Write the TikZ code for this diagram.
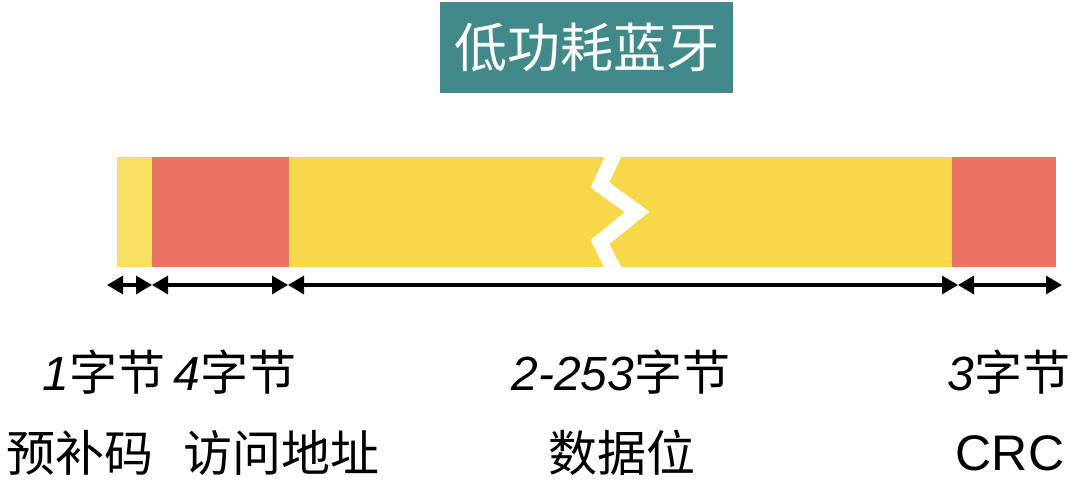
\documentclass[tikz,border=0pt]{standalone}
\usepackage{fontspec}
\setmainfont{Liberation Sans}
\newfontfamily\cjk{Noto Sans CJK SC}
\usetikzlibrary{arrows.meta,positioning}
\definecolor{titleteal}{HTML}{428A89}
\definecolor{lightyel}{HTML}{F9E063}
\definecolor{yel}{HTML}{F7D84B}
\definecolor{salmon}{HTML}{E87461}
\tikzset{
    seg/.style={draw=none,minimum height=110pt,inner sep=0pt,anchor=north west},
    span/.style={{Triangle[length=16pt,width=18pt]}-{Triangle[length=16pt,width=18pt]},line width=3.2pt},
    bytelbl/.style={font=\fontsize{48}{54}\selectfont,inner sep=0pt},
    fieldlbl/.style={font=\cjk\fontsize{49}{55}\selectfont,inner sep=0pt}
}
\newcommand{\bytes}[1]{{\itshape #1}{\cjk 字节}}

\begin{document}
\begin{tikzpicture}[x=1pt,y=-1pt]
    \useasboundingbox (0,0) rectangle (1080,492);
    % title
    \node[fill=titleteal,text=white,font=\cjk\fontsize{53}{58}\selectfont,
          minimum width=293pt,minimum height=91pt] (title) at (586.5,47.5) {低功耗蓝牙};
    % packet
    \node[seg,fill=lightyel,minimum width=35pt]  (pre)  at (117,157) {};
    \node[seg,fill=salmon,minimum width=137pt]   (addr) at (152,157) {};
    \node[seg,fill=yel,minimum width=663pt]      (data) at (289,157) {};
    \node[seg,fill=salmon,minimum width=104pt]   (crc)  at (952,157) {};
    % break
    \draw[white,line width=15pt,miter limit=10]
        (616,150) -- (600,185) -- (637,212) -- (600,242) -- (616,274);
    % spans
    \coordinate (t0) at (107,285);
    \coordinate (t1) at (152,285);
    \coordinate (t2) at (288,285);
    \coordinate (t3) at (958,285);
    \coordinate (t4) at (1062,285);
    \draw[span] (t0) -- (t1);
    \draw[span] (t1) -- (t2);
    \draw[span] (t2) -- (t3);
    \draw[span] (t3) -- (t4);
    % labels
    \node[bytelbl] (s1) at (104,372) {\bytes{1}};
    \node[bytelbl] (s2) at (235,372) {\bytes{4}};
    \node[bytelbl] (s3) at (621,372) {\bytes{2-253}};
    \node[bytelbl] (s4) at (1009,372) {\bytes{3}};
    \node[fieldlbl] (n1) at (80,453)   {预补码};
    \node[fieldlbl] (n2) at (281,453)  {访问地址};
    \node[fieldlbl] (n3) at (622,453)  {数据位};
    \node[bytelbl,font=\fontsize{50}{56}\selectfont] (n4) at (1010,453) {CRC};
\end{tikzpicture}
\end{document}
